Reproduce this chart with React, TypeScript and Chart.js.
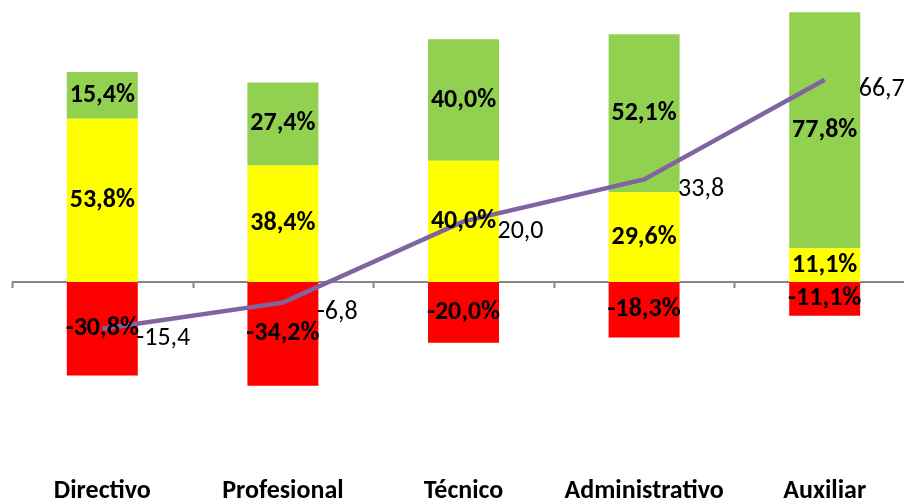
import React, { useEffect, useRef } from "react";
import { Chart, registerables } from "chart.js";

Chart.register(...registerables);

const categories = ["Directivo", "Profesional", "Técnico", "Administrativo", "Auxiliar"];
const negativeValues = [-30.8, -34.2, -20.0, -18.3, -11.1];
const neutralValues = [53.8, 38.4, 40.0, 29.6, 11.1];
const positiveValues = [15.4, 27.4, 40.0, 52.1, 77.8];
const balanceValues = [-15.4, -6.8, 20.0, 33.8, 66.7];

const FONT = "Carlito, 'Liberation Sans Narrow', 'DejaVu Sans Condensed', sans-serif";

const fmt = (v: number) => v.toFixed(1).replace(".", ",");

const labelsPlugin = {
  id: "customLabels",
  beforeDatasetsDraw(chart: any) {
    const { ctx, chartArea, scales } = chart;
    const y0 = scales.y.getPixelForValue(0);
    const n = categories.length;
    const cw = (chartArea.right - chartArea.left) / n;
    ctx.save();
    ctx.strokeStyle = "#868686";
    ctx.lineWidth = 2;
    ctx.beginPath();
    ctx.moveTo(chartArea.left, y0);
    ctx.lineTo(chartArea.right, y0);
    for (let i = 0; i <= n; i++) {
      const x = Math.round(chartArea.left + i * cw) + 0.5;
      ctx.moveTo(x, y0);
      ctx.lineTo(x, y0 + 6);
    }
    ctx.stroke();
    ctx.restore();
  },
  afterDatasetsDraw(chart: any) {
    const { ctx } = chart;
    ctx.save();
    ctx.fillStyle = "#000";
    chart.data.datasets.forEach((ds: any, di: number) => {
      const meta = chart.getDatasetMeta(di);
      meta.data.forEach((el: any, i: number) => {
        const v = ds.data[i];
        if (ds.type === "line") {
          ctx.font = `26px ${FONT}`;
          ctx.textAlign = "left";
          ctx.textBaseline = "middle";
          ctx.fillText(fmt(v), el.x + 34, el.y + 10);
        } else {
          ctx.font = `bold 26px ${FONT}`;
          ctx.textAlign = "center";
          ctx.textBaseline = "middle";
          ctx.fillText(fmt(v) + "%", el.x, (el.y + el.base) / 2);
        }
      });
    });
    ctx.restore();
  },
};

export default function App() {
  const ref = useRef<HTMLCanvasElement | null>(null);
  useEffect(() => {
    if (!ref.current) return;
    const chart = new Chart(ref.current, {
      type: "bar",
      data: {
        labels: categories,
        datasets: [
          { type: "line", label: "Balance", data: balanceValues, borderColor: "#8064A2", borderWidth: 4.5, pointRadius: 0, tension: 0, stack: "line", order: 0 } as any,
          { label: "Negativo", data: negativeValues, backgroundColor: "#FF0000", stack: "s", order: 1 },
          { label: "Neutral", data: neutralValues, backgroundColor: "#FFFF00", stack: "s", order: 1 },
          { label: "Positivo", data: positiveValues, backgroundColor: "#92D050", stack: "s", order: 1 },
        ],
      },
      options: {
        animation: false,
        responsive: false,
        layout: { padding: { left: 12, right: 1, top: 9, bottom: 0 } },
        datasets: { bar: { categoryPercentage: 1, barPercentage: 0.393 } },
        plugins: { legend: { display: false }, tooltip: { enabled: false } },
        scales: {
          x: {
            stacked: true,
            grid: { display: false, drawTicks: false },
            border: { display: false },
            ticks: { color: "#000", font: { family: FONT, size: 26, weight: "bold" }, padding: 12, maxRotation: 0 },
            afterFit: (scale: any) => { scale.height = 39; },
          },
          y: { stacked: true, display: false, min: -60, max: 90 },
        },
      },
      plugins: [labelsPlugin],
    });
    return () => chart.destroy();
  }, []);
  return (
    <div style={{ position: "fixed", left: 0, top: 0, width: 904, height: 503, overflow: "hidden", background: "#fff" }}>
      <canvas ref={ref} width={916} height={503} style={{ display: "block" }} />
    </div>
  );
}
